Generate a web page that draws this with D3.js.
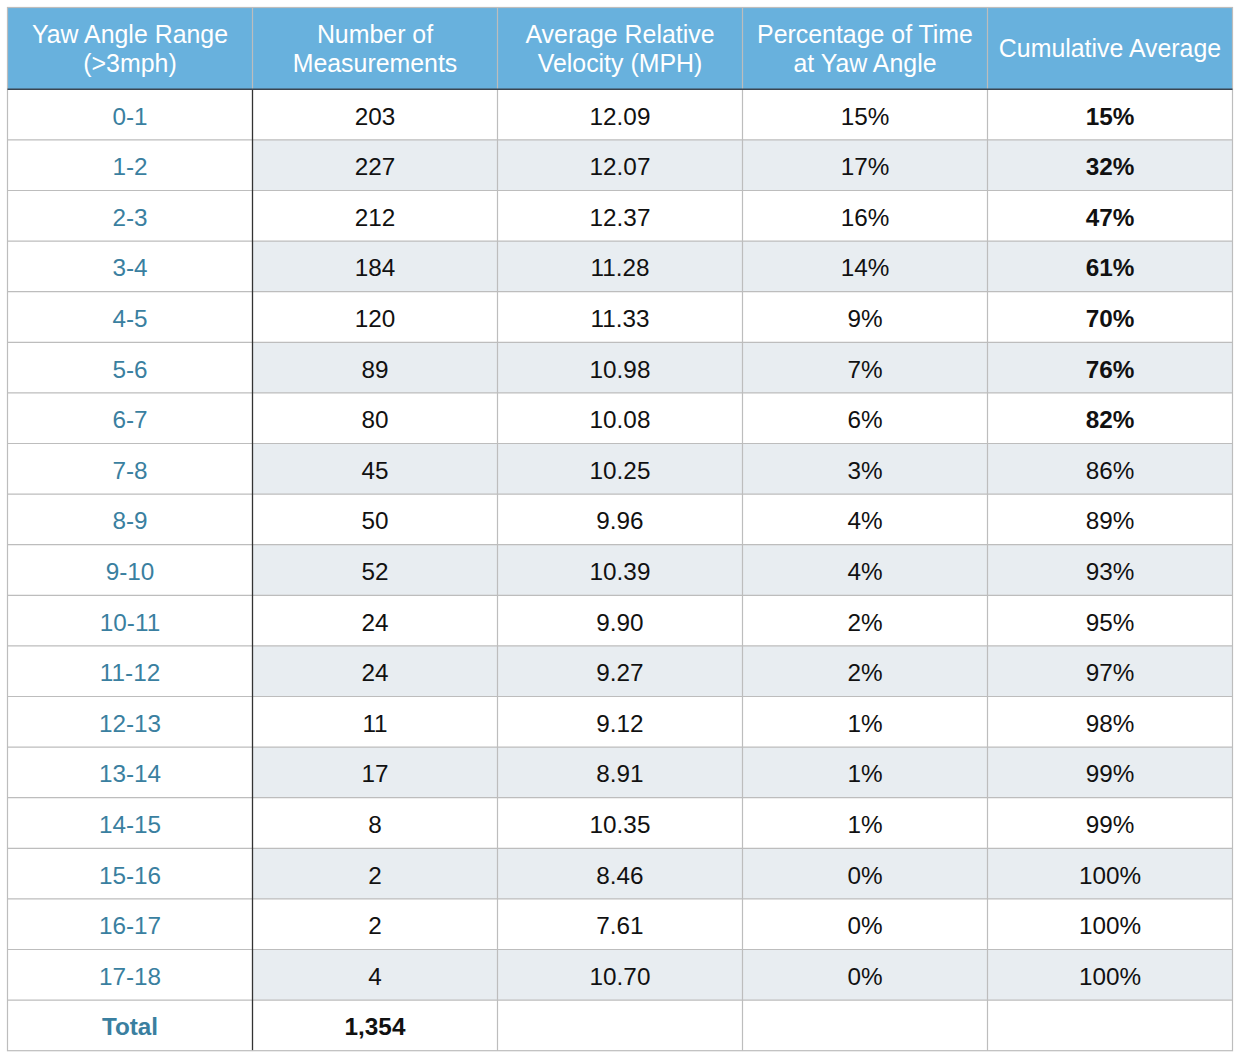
<!DOCTYPE html>
<html>
<head>
<meta charset="utf-8">
<script src="https://cdn.jsdelivr.net/npm/d3@7"></script>
<style>
  body { margin: 0; background: #fff; }
  svg text { font-family: "Liberation Sans", Helvetica, Arial, sans-serif; font-size: 24.3px; }
  svg text.head { font-size: 24.9px; }
</style>
</head>
<body>
<svg width="1240" height="1060"></svg>
<script>
const svg = d3.select("svg");

// Table data
const headers = [
    ["Yaw Angle Range", "(>3mph)"],
    ["Number of", "Measurements"],
    ["Average Relative", "Velocity (MPH)"],
    ["Percentage of Time", "at Yaw Angle"],
    ["Cumulative Average"]
];
const yawRanges = ["0-1", "1-2", "2-3", "3-4", "4-5", "5-6", "6-7", "7-8", "8-9", "9-10",
    "10-11", "11-12", "12-13", "13-14", "14-15", "15-16", "16-17", "17-18"];
const measurements = [203, 227, 212, 184, 120, 89, 80, 45, 50, 52, 24, 24, 11, 17, 8, 2, 2, 4];
const avgVelocity = [12.09, 12.07, 12.37, 11.28, 11.33, 10.98, 10.08, 10.25, 9.96, 10.39,
    9.90, 9.27, 9.12, 8.91, 10.35, 8.46, 7.61, 10.70];
const pctTime = [15, 17, 16, 14, 9, 7, 6, 3, 4, 4, 2, 2, 1, 1, 1, 0, 0, 0];
const cumulative = [15, 32, 47, 61, 70, 76, 82, 86, 89, 93, 95, 97, 98, 99, 99, 100, 100, 100];
const boldCumulative = 7; // first rows shown in bold
const totalLabel = "Total";
const totalMeasurements = 1354;

const tLeft = 7.5, tRight = 1232.5, tTop = 7.5, headerH = 81.8, tBottom = 1050.7;

const x = d3.scaleBand().domain(d3.range(5)).range([tLeft, tRight]);
const rowKeys = yawRanges.concat([totalLabel]);
const y = d3.scaleBand().domain(rowKeys).range([tTop + headerH, tBottom]);

const fmt2 = d3.format(".2f");
const fmtComma = d3.format(",");

const rows = yawRanges.map((r, i) => ({
    key: r,
    cells: [r, measurements[i], fmt2(avgVelocity[i]), pctTime[i] + "%", cumulative[i] + "%"],
    bold: [false, false, false, false, i < boldCumulative],
    zebra: i % 2 === 1
}));
rows.push({
    key: totalLabel,
    cells: [totalLabel, fmtComma(totalMeasurements), "", "", ""],
    bold: [true, true, false, false, false],
    zebra: false
});

// Header
svg.append("rect")
    .attr("x", tLeft).attr("y", tTop)
    .attr("width", tRight - tLeft).attr("height", headerH)
    .attr("fill", "#68b1dd");

const head = svg.append("g");
headers.forEach((lines, c) => {
    const cx = x(c) + x.bandwidth() / 2;
    const mid = tTop + headerH / 2 + 9;
    lines.forEach((line, k) => {
        head.append("text")
            .attr("class", "head")
            .attr("x", cx)
            .attr("y", mid + (k - (lines.length - 1) / 2) * 28.6)
            .attr("text-anchor", "middle")
            .attr("fill", "#fff")
            .text(line);
    });
});

// Body rows
const body = svg.append("g");
const rowG = body.selectAll("g.row").data(rows).enter().append("g")
    .attr("class", "row")
    .attr("transform", d => `translate(0,${y(d.key)})`);

rowG.filter(d => d.zebra).append("rect")
    .attr("x", x(1)).attr("width", tRight - x(1))
    .attr("height", y.bandwidth())
    .attr("fill", "#e8edf1");

rowG.selectAll("text").data(d => d.cells.map((v, c) => ({ v, c, b: d.bold[c] })))
    .enter().append("text")
    .attr("x", d => x(d.c) + x.bandwidth() / 2)
    .attr("y", y.bandwidth() / 2 + 10)
    .attr("text-anchor", "middle")
    .attr("fill", d => d.c === 0 ? "#3a7fa0" : "#111")
    .attr("font-weight", d => d.b ? "bold" : "normal")
    .text(d => d.v);

// Grid lines
const grid = svg.append("g").attr("fill", "none");
rowKeys.slice(1).forEach(k => {
    grid.append("line")
        .attr("x1", tLeft).attr("x2", tRight)
        .attr("y1", y(k)).attr("y2", y(k))
        .attr("stroke", "#bdbdbd").attr("stroke-width", 1.2);
});
d3.range(2, 5).forEach(c => {
    grid.append("line")
        .attr("x1", x(c)).attr("x2", x(c))
        .attr("y1", tTop).attr("y2", tBottom)
        .attr("stroke", "#bdbdbd").attr("stroke-width", 1.2);
});
// first column divider: light in header, dark in body
grid.append("line")
    .attr("x1", x(1)).attr("x2", x(1))
    .attr("y1", tTop).attr("y2", tTop + headerH)
    .attr("stroke", "#bdbdbd").attr("stroke-width", 1.2);
grid.append("line")
    .attr("x1", x(1)).attr("x2", x(1))
    .attr("y1", tTop + headerH).attr("y2", tBottom)
    .attr("stroke", "#333").attr("stroke-width", 1.3);
// outer border
grid.append("rect")
    .attr("x", tLeft).attr("y", tTop)
    .attr("width", tRight - tLeft).attr("height", tBottom - tTop)
    .attr("stroke", "#bdbdbd").attr("stroke-width", 1.2);
// header bottom
grid.append("line")
    .attr("x1", tLeft).attr("x2", tRight)
    .attr("y1", tTop + headerH).attr("y2", tTop + headerH)
    .attr("stroke", "#3a4550").attr("stroke-width", 1.6);
</script>
</body>
</html>
